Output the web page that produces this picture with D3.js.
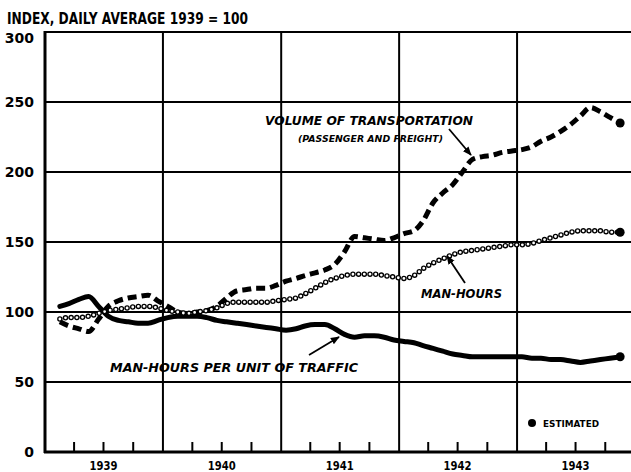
<!DOCTYPE html>
<html>
<head>
<meta charset="utf-8">
<script src="https://cdn.jsdelivr.net/npm/d3@7"></script>
<style>
body { margin: 0; background: #fff; }
text { fill: #000; font-family: "DejaVu Sans", sans-serif; font-weight: bold; }
</style>
</head>
<body>
<div class="chart"></div>
<script>
// monthly index values, Feb 1939 .. Nov 1943 (1939 daily average = 100)
var volume = [93, 90, 88, 86, 95, 104, 108, 110, 111, 112,
              108, 104, 100, 99, 100, 101, 104, 110, 115, 116,
              117, 117, 119, 122, 124, 126, 128, 130, 134, 143,
              154, 153, 152, 151, 153, 156, 158, 165, 178, 185,
              191, 200, 209, 211, 212, 214, 215, 216, 218, 222,
              225, 229, 234, 240, 246, 243, 239, 235];
var manHours = [95, 96, 96, 97, 99, 101, 102, 103, 104, 104,
                103, 101, 100, 99, 100, 101, 103, 106, 107, 107,
                107, 107, 108, 109, 110, 113, 117, 121, 124, 126,
                127, 127, 127, 126, 125, 124, 126, 131, 135, 138,
                141, 143, 144, 145, 146, 147, 148, 148, 149, 151,
                153, 155, 157, 158, 158, 158, 157, 157];
var perUnit = [104, 106, 109, 111, 104, 97, 94, 93, 92, 92,
               94, 96, 97, 97, 97, 96, 94, 93, 92, 91,
               90, 89, 88, 87, 88, 90, 91, 91, 88, 84,
               82, 83, 83, 82, 80, 79, 78, 76, 74, 72,
               70, 69, 68, 68, 68, 68, 68, 68, 67, 67,
               66, 66, 65, 64, 65, 66, 67, 68];
var years = ["1939", "1940", "1941", "1942", "1943"];
var yTicks = [0, 50, 100, 150, 200, 250, 300];

var months = d3.timeMonth.range(new Date(1939, 1, 1), new Date(1943, 11, 1));

var width = 631, height = 472;
var svg = d3.select(".chart").append("svg")
            .attr("width", width)
            .attr("height", height);

var x = d3.scaleTime()
          .domain([new Date(1939, 0, 1), new Date(1944, 0, 1)])
          .range([45, 635]);
var y = d3.scaleLinear().domain([0, 300]).range([452, 32]);

function mid(i) { return x(d3.timeDay.offset(months[i], 15)); }

// grid
svg.selectAll("line.h").data(yTicks.filter(function(d){ return d > 0; }))
   .enter().append("line")
   .attr("x1", 45).attr("x2", width)
   .attr("y1", function(d){ return y(d); })
   .attr("y2", function(d){ return y(d); })
   .attr("stroke", "#000").attr("stroke-width", 2);

var yearStarts = years.slice(1).map(function(d){ return new Date(+d, 0, 1); });
svg.selectAll("line.v").data(yearStarts)
   .enter().append("line")
   .attr("x1", function(d){ return x(d); })
   .attr("x2", function(d){ return x(d); })
   .attr("y1", y(300)).attr("y2", y(0))
   .attr("stroke", "#000").attr("stroke-width", 2);

// axes
svg.append("line").attr("x1", 45).attr("x2", 45).attr("y1", y(300) - 1).attr("y2", y(0) + 1)
   .attr("stroke", "#000").attr("stroke-width", 3);
svg.append("line").attr("x1", 44).attr("x2", width).attr("y1", y(0)).attr("y2", y(0))
   .attr("stroke", "#000").attr("stroke-width", 3);

// quarter ticks
var quarters = x.ticks(d3.timeMonth.every(3)).filter(function(d){ return d.getMonth() !== 0; });
svg.selectAll("line.q").data(quarters)
   .enter().append("line")
   .attr("x1", function(d){ return x(d); })
   .attr("x2", function(d){ return x(d); })
   .attr("y1", y(0) - 10).attr("y2", y(0))
   .attr("stroke", "#000").attr("stroke-width", 2);

// y labels
svg.selectAll("text.y").data(yTicks)
   .enter().append("text")
   .attr("x", 34)
   .attr("y", function(d){ return Math.max(y(d), 38); })
   .attr("dy", "0.36em")
   .attr("text-anchor", "end")
   .style("font-size", "14px")
   .text(function(d){ return d; });

// year labels
svg.selectAll("text.x").data(years)
   .enter().append("text")
   .attr("x", function(d){ return x(new Date(+d, 6, 1)); })
   .attr("y", 470)
   .attr("text-anchor", "middle")
   .attr("textLength", 28).attr("lengthAdjust", "spacingAndGlyphs")
   .style("font-size", "12px")
   .text(function(d){ return d; });

svg.append("text").attr("x", 7).attr("y", 24)
   .attr("textLength", 241).attr("lengthAdjust", "spacingAndGlyphs")
   .style("font-size", "15px")
   .text("INDEX, DAILY AVERAGE 1939 = 100");

// series
var line = function(vals) {
  return d3.line()
           .x(function(d, i){ return mid(i); })
           .y(function(d){ return y(d); })
           .curve(d3.curveMonotoneX)(vals);
};

svg.append("path").attr("d", line(perUnit))
   .attr("fill", "none").attr("stroke", "#000").attr("stroke-width", 5)
   .attr("stroke-linejoin", "round").attr("stroke-linecap", "round");

svg.append("path").attr("d", line(volume))
   .attr("fill", "none").attr("stroke", "#000").attr("stroke-width", 5)
   .attr("stroke-dasharray", "9,5").attr("stroke-linecap", "butt");

// chain of small rings: black dots, then white centres on the same dash pattern
svg.append("path").attr("d", line(manHours))
   .attr("fill", "none").attr("stroke", "#000").attr("stroke-width", 5.5)
   .attr("stroke-dasharray", "0,5.7").attr("stroke-linecap", "round");
svg.append("path").attr("d", line(manHours))
   .attr("fill", "none").attr("stroke", "#fff").attr("stroke-width", 2.8)
   .attr("stroke-dasharray", "0,5.7").attr("stroke-linecap", "round");

// estimated end points
var last = months.length - 1;
svg.selectAll("circle.est").data([volume[last], manHours[last], perUnit[last]])
   .enter().append("circle")
   .attr("cx", mid(last))
   .attr("cy", function(d){ return y(d); })
   .attr("r", 4.5)
   .attr("fill", "#000");

// annotations
svg.append("defs").append("marker")
   .attr("id", "head").attr("viewBox", "0 0 10 10")
   .attr("refX", 9).attr("refY", 5)
   .attr("markerWidth", 9).attr("markerHeight", 9)
   .attr("markerUnits", "userSpaceOnUse")
   .attr("orient", "auto")
   .append("path").attr("d", "M0,1 L10,5 L0,9 Z").attr("fill", "#000");

function arrow(x1, y1, x2, y2) {
  svg.append("line").attr("x1", x1).attr("y1", y1).attr("x2", x2).attr("y2", y2)
     .attr("stroke", "#000").attr("stroke-width", 1.8)
     .attr("marker-end", "url(#head)");
}

function label(txt, x0, y0, len, size, italic) {
  svg.append("text").attr("x", x0).attr("y", y0)
     .attr("textLength", len).attr("lengthAdjust", "spacingAndGlyphs")
     .style("font-size", size + "px")
     .style("font-style", italic ? "italic" : "normal")
     .text(txt);
}

label("VOLUME OF TRANSPORTATION", 265, 125, 208, 13, true);
label("(PASSENGER AND FREIGHT)", 298, 142, 145, 9, true);
arrow(449, 129, 471, 155);

label("MAN-HOURS", 421, 298, 81, 13, true);
arrow(465, 283, 447, 256);

label("MAN-HOURS PER UNIT OF TRAFFIC", 110, 372, 248, 13, true);
arrow(309, 355, 339, 337);

svg.append("circle").attr("cx", 532).attr("cy", 423).attr("r", 4).attr("fill", "#000");
label("ESTIMATED", 543, 427, 56, 9, false);
</script>
</body>
</html>
